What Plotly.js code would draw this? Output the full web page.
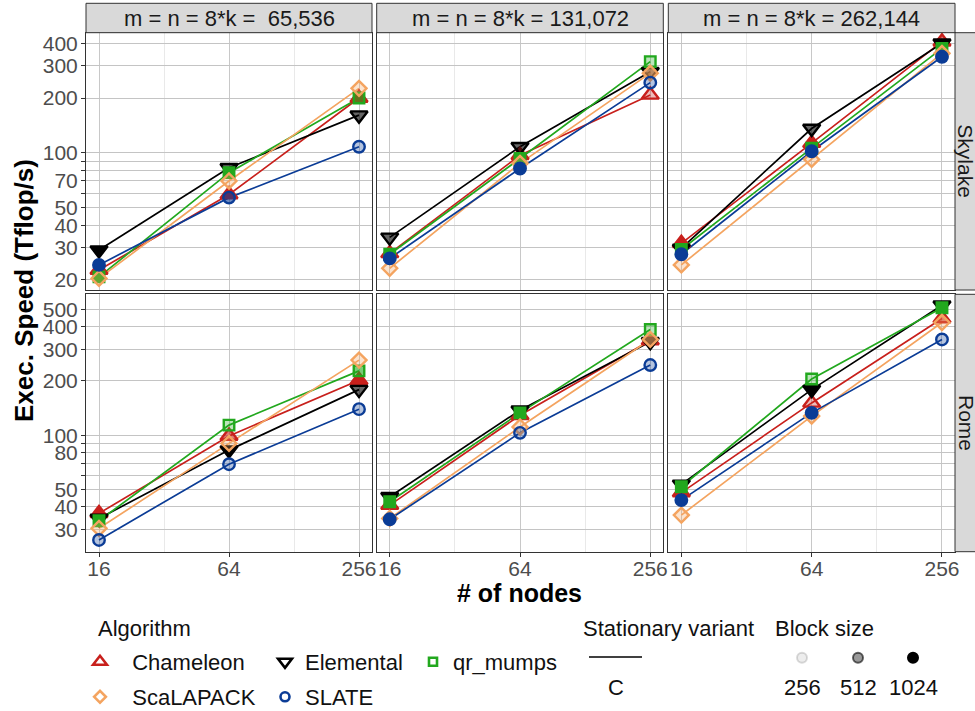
<!DOCTYPE html>
<html><head><meta charset="utf-8">
<script src="https://cdn.plot.ly/plotly-3.0.1.min.js"></script>
<style>html,body{margin:0;padding:0;background:#fff}</style>
</head><body><div id="chart" style="width:975px;height:711px"></div>
<script>
// ---------------- DATA ----------------
const nodes = [16, 64, 256];
const algorithms = ['Chameleon', 'Elemental', 'qr_mumps', 'ScaLAPACK', 'SLATE'];
const matrixLabels = ['m = n = 8*k =\u00a0 65,536', 'm = n = 8*k = 131,072', 'm = n = 8*k = 262,144'];
const machines = ['Skylake', 'Rome'];
const blockSizeLabels = ['256', '512', '1024'];
const stationaryLabels = ['C'];

// Exec. speed (Tflop/s): one row per matrix size (65,536 / 131,072 / 262,144), one value per node count
const chameleonSkylake = [[22.7, 59, 200], [28, 97, 208], [31.8, 113, 408]];
const elementalSkylake = [[29.2, 82.8, 161], [34.3, 108, 279], [29.8, 136, 400]];
const qrmumpsSkylake   = [[20.8, 77.8, 200], [27.7, 93, 317], [29.4, 106, 375]];
const scalapackSkylake = [[20.4, 70, 226], [23.2, 87.5, 274], [24.2, 92, 352]];
const slateSkylake     = [[24.2, 56.7, 108], [26.3, 82, 243], [27.7, 102, 337]];

const chameleonRome = [[36.8, 99, 202], [40.9, 129, 335], [48, 151, 444]];
const elementalRome = [[34.5, 82.6, 179], [45.5, 137.6, 330], [53.3, 179, 526]];
const qrmumpsRome   = [[33.5, 113.7, 227.5], [42.7, 133, 386], [51.7, 205, 510]];
const scalapackRome = [[30.4, 90, 261], [34.5, 111, 340], [36, 127.6, 422]];
const slateRome     = [[26.2, 69, 139.4], [34.1, 103, 245], [43.6, 133, 340]];

// Block size of each point
const chameleonSkylakeBs = [[1024, 1024, 1024], [1024, 1024, 256], [1024, 1024, 512]];
const elementalSkylakeBs = [[1024, 512, 512], [512, 512, 512], [1024, 512, 1024]];
const qrmumpsSkylakeBs   = [[1024, 1024, 512], [1024, 1024, 256], [1024, 1024, 1024]];
const scalapackSkylakeBs = [[256, 256, 256], [256, 256, 512], [256, 256, 256]];
const slateSkylakeBs     = [[1024, 512, 256], [1024, 1024, 256], [1024, 1024, 1024]];

const chameleonRomeBs = [[1024, 512, 1024], [1024, 1024, 1024], [1024, 256, 512]];
const elementalRomeBs = [[1024, 1024, 512], [1024, 1024, 1024], [1024, 1024, 1024]];
const qrmumpsRomeBs   = [[1024, 256, 512], [1024, 1024, 256], [1024, 256, 1024]];
const scalapackRomeBs = [[256, 256, 256], [256, 256, 512], [256, 256, 256]];
const slateRomeBs     = [[256, 256, 256], [1024, 256, 256], [1024, 1024, 256]];

// y tick breaks per row
const yTicksTop = [20, 30, 40, 50, 60, 70, 80, 90, 100, 200, 300, 400];
const yTickTextTop = ['20', '30', '40', '50', '', '70', '', '', '100', '200', '300', '400'];
const yTicksBottom = [30, 40, 50, 60, 70, 80, 90, 100, 200, 300, 400, 500];
const yTickTextBottom = ['30', '40', '50', '', '', '80', '', '100', '200', '300', '400', '500'];
const xMinorTicks = [32, 128];

// --------------- TABLES BUILT FROM DATA ---------------
const speeds = {
  Skylake: {Chameleon: chameleonSkylake, Elemental: elementalSkylake, qr_mumps: qrmumpsSkylake, ScaLAPACK: scalapackSkylake, SLATE: slateSkylake},
  Rome: {Chameleon: chameleonRome, Elemental: elementalRome, qr_mumps: qrmumpsRome, ScaLAPACK: scalapackRome, SLATE: slateRome}
};
const blocks = {
  Skylake: {Chameleon: chameleonSkylakeBs, Elemental: elementalSkylakeBs, qr_mumps: qrmumpsSkylakeBs, ScaLAPACK: scalapackSkylakeBs, SLATE: slateSkylakeBs},
  Rome: {Chameleon: chameleonRomeBs, Elemental: elementalRomeBs, qr_mumps: qrmumpsRomeBs, ScaLAPACK: scalapackRomeBs, SLATE: slateRomeBs}
};

// --------------- STYLE ---------------
const FONT = 'Liberation Sans, Arial, Helvetica, sans-serif';
const colors = {Chameleon: '#C8201C', Elemental: '#000000', qr_mumps: '#22A81E', ScaLAPACK: '#F4A460', SLATE: '#0B3C96'};
const symbols = {Chameleon: 'triangle-up', Elemental: 'triangle-down', qr_mumps: 'square', ScaLAPACK: 'diamond', SLATE: 'circle'};
const msize = {Chameleon: 15, Elemental: 15, qr_mumps: 10.5, ScaLAPACK: 11.5, SLATE: 11.5};
const lsize = {Chameleon: 12, Elemental: 12, qr_mumps: 8, ScaLAPACK: 9, SLATE: 9};
const legendPad = {Chameleon: '\u00a0\u00a0', Elemental: '', qr_mumps: '', ScaLAPACK: '\u00a0\u00a0', SLATE: ''};
const alphaByBlock = {256: 0.3, 512: 0.6, 1024: 1};
const blockKeyStyle = {
  '256': {fill: 'rgba(0,0,0,0.07)', line: 'rgba(0,0,0,0.14)'},
  '512': {fill: 'rgba(0,0,0,0.4)', line: 'rgba(0,0,0,0.6)'},
  '1024': {fill: 'rgba(0,0,0,1)', line: 'rgba(0,0,0,1)'}
};

function rgba(hex, a) {
  const n = parseInt(hex.slice(1), 16);
  return 'rgba(' + (n >> 16) + ',' + ((n >> 8) & 255) + ',' + (n & 255) + ',' + a + ')';
}

const W = 975, H = 711;
const px = x => x / W;
const py = y => 1 - y / H;
const colPx = [[86, 372], [376.7, 663.3], [668.3, 955]];
const rowPx = [[32.7, 290], [294.3, 551.7]];
const yRanges = [[1.246, 2.660], [1.353, 2.782]];
const xRange = [1.1439, 2.4684];

const traces = [];
const layout = {
  width: W, height: H,
  margin: {l: 0, r: 0, t: 0, b: 0, autoexpand: false},
  paper_bgcolor: '#ffffff', plot_bgcolor: '#ffffff',
  font: {family: FONT, color: '#1a1a1a'},
  showlegend: true,
  annotations: [], shapes: []
};

machines.forEach((mach, r) => {
  matrixLabels.forEach((ml, c) => {
    const p = r * 3 + c;
    const idx = p === 0 ? '' : String(p + 1);
    const xa = 'x' + idx, ya = 'y' + idx;
    layout['xaxis' + idx] = {
      type: 'log', range: xRange, domain: [px(colPx[c][0]), px(colPx[c][1])], anchor: ya,
      tickvals: nodes, ticktext: nodes.map(String),
      showticklabels: r === 1, ticks: r === 1 ? 'outside' : '', ticklen: 4, tickcolor: '#333333',
      ticklabelstandoff: -6,
      tickfont: {size: 21, color: '#4d4d4d', family: FONT},
      showgrid: true, gridcolor: '#c8c8c8', gridwidth: 1,
      minor: {tickvals: xMinorTicks, showgrid: true, gridcolor: '#e9e9e9', gridwidth: 1, ticks: ''},
      showline: true, mirror: true, linecolor: '#333333', linewidth: 1,
      zeroline: false, fixedrange: true, automargin: false
    };
    layout['yaxis' + idx] = {
      type: 'log', range: yRanges[r], domain: [py(rowPx[r][1]), py(rowPx[r][0])], anchor: xa,
      tickvals: r === 0 ? yTicksTop : yTicksBottom,
      ticktext: r === 0 ? yTickTextTop : yTickTextBottom,
      showticklabels: c === 0, ticks: c === 0 ? 'outside' : '', ticklen: 4, tickcolor: '#333333',
      ticklabelstandoff: -1,
      tickfont: {size: 21, color: '#4d4d4d', family: FONT},
      showgrid: true, gridcolor: '#c4c4c4', gridwidth: 1,
      showline: true, mirror: true, linecolor: '#333333', linewidth: 1,
      zeroline: false, fixedrange: true, automargin: false
    };
    // lines first
    algorithms.forEach(a => {
      traces.push({
        type: 'scatter', mode: 'lines', x: nodes, y: speeds[mach][a][c], xaxis: xa, yaxis: ya,
        line: {color: colors[a], width: 1.7}, showlegend: false, hoverinfo: 'skip'
      });
    });
    algorithms.forEach(a => {
      traces.push({
        type: 'scatter', mode: 'markers', x: nodes, y: speeds[mach][a][c], xaxis: xa, yaxis: ya,
        marker: {
          symbol: symbols[a], size: msize[a],
          color: blocks[mach][a][c].map(b => rgba(colors[a], alphaByBlock[b])),
          line: {color: colors[a], width: 2.4}
        },
        showlegend: false, hoverinfo: 'skip'
      });
    });
    // top strip
    if (r === 0) {
      layout.shapes.push({type: 'rect', xref: 'paper', yref: 'paper',
        x0: px(colPx[c][0]), x1: px(colPx[c][1]), y0: py(32.7), y1: py(3.3),
        fillcolor: '#d9d9d9', line: {color: '#333333', width: 1}});
      layout.annotations.push({xref: 'paper', yref: 'paper', x: px((colPx[c][0] + colPx[c][1]) / 2), y: py(18.5),
        xanchor: 'center', yanchor: 'middle', text: ml, showarrow: false,
        font: {size: 22, color: '#1a1a1a', family: FONT}});
    }
  });
  // right strip
  layout.shapes.push({type: 'rect', xref: 'paper', yref: 'paper',
    x0: px(955), x1: px(976), y0: py(rowPx[r][1]), y1: py(rowPx[r][0]),
    fillcolor: '#d9d9d9', line: {color: '#333333', width: 1}});
  layout.annotations.push({xref: 'paper', yref: 'paper', x: px(966), y: py((rowPx[r][0] + rowPx[r][1]) / 2),
    xanchor: 'center', yanchor: 'middle', text: mach, textangle: 90, showarrow: false,
    font: {size: 21, color: '#1a1a1a', family: FONT}});
});

// axis titles
layout.annotations.push({xref: 'paper', yref: 'paper', x: px(24), y: py(291), xanchor: 'center', yanchor: 'middle',
  text: '<b>Exec. Speed (Tflop/s)</b>', textangle: -90, showarrow: false, font: {size: 26, color: '#000', family: FONT}});
layout.annotations.push({xref: 'paper', yref: 'paper', x: px(519), y: py(593), xanchor: 'center', yanchor: 'middle',
  text: '<b># of nodes</b>', showarrow: false, font: {size: 25, color: '#000', family: FONT}});

// ---------- legends ----------
const legendFont = {size: 22, color: '#111111', family: FONT};
const algoKeyPos = [[100, 662], [285, 662], [433, 662], [100, 697], [285, 697]];
algorithms.forEach((a, i) => {
  const lg = i === 0 ? 'legend' : 'legend' + (i + 1);
  traces.push({type: 'scatter', mode: 'markers', x: [null], y: [null], name: legendPad[a] + a, legend: lg,
    marker: {symbol: symbols[a], size: lsize[a], color: '#ffffff', line: {color: colors[a], width: 2.6}},
    showlegend: true, hoverinfo: 'skip'});
  layout[lg] = {x: px(algoKeyPos[i][0] - 20), y: py(algoKeyPos[i][1]), xanchor: 'left', yanchor: 'middle',
    bgcolor: 'rgba(0,0,0,0)', borderwidth: 0, font: legendFont, itemclick: false, itemdoubleclick: false};
});
const blockKeyX = [802, 858, 913];
blockSizeLabels.forEach((b, i) => {
  const lg = 'legend' + (6 + i);
  traces.push({type: 'scatter', mode: 'markers', x: [null], y: [null], name: '', legend: lg,
    marker: {symbol: 'circle', size: 10, color: blockKeyStyle[b].fill, line: {color: blockKeyStyle[b].line, width: 2}},
    showlegend: true, hoverinfo: 'skip'});
  layout[lg] = {x: px(blockKeyX[i] - 20), y: py(658), xanchor: 'left', yanchor: 'middle',
    bgcolor: 'rgba(0,0,0,0)', borderwidth: 0, font: legendFont, itemclick: false, itemdoubleclick: false};
  layout.annotations.push({xref: 'paper', yref: 'paper', x: px(blockKeyX[i]), y: py(687), xanchor: 'center', yanchor: 'middle',
    text: b, showarrow: false, font: legendFont});
});
// legend titles
[['Algorithm', 96], ['Stationary variant', 581], ['Block size', 773]].forEach(t => {
  layout.annotations.push({xref: 'paper', yref: 'paper', x: px(t[1]), y: py(628), xanchor: 'left', yanchor: 'middle',
    text: t[0], showarrow: false, font: legendFont});
});
// stationary variant key
layout.shapes.push({type: 'line', xref: 'paper', yref: 'paper', x0: px(589), x1: px(642), y0: py(657), y1: py(657),
  line: {color: '#000000', width: 1.6}});
layout.annotations.push({xref: 'paper', yref: 'paper', x: px(616), y: py(687), xanchor: 'center', yanchor: 'middle',
  text: stationaryLabels[0], showarrow: false, font: legendFont});

Plotly.newPlot('chart', traces, layout, {displayModeBar: false, staticPlot: true});
</script>
</body></html>
